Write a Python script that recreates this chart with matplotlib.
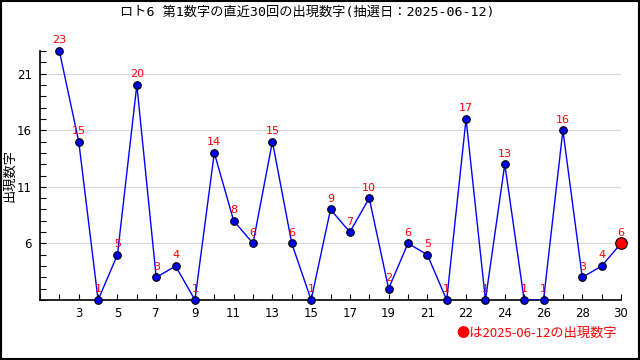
import matplotlib
matplotlib.use("Agg")
import matplotlib.pyplot as plt
from matplotlib.ticker import MultipleLocator, FixedLocator
from matplotlib.patches import Rectangle

plt.rcParams['font.family'] = ['DejaVu Sans Mono', 'Noto Sans CJK JP']

# last 30 draws, oldest first
values = [23, 15, 1, 5, 20, 3, 4, 1, 14, 8, 6, 15, 6, 1, 9, 7, 10, 2, 6, 5,
          1, 17, 1, 13, 1, 1, 16, 3, 4, 6]
positions = list(range(1, 31))
tick_pos = list(range(2, 31, 2))
tick_labels = ['3', '5', '7', '9', '11', '13', '15', '17', '19', '21',
               '22', '24', '26', '28', '30']
title = 'ロト6 第1数字の直近30回の出現数字(抽選日：2025-06-12)'
latest_note = '●は2025-06-12の出現数字'

fig = plt.figure(figsize=(6.4, 3.6), dpi=100)
ax = fig.add_axes([40 / 640, 1 - 300 / 360, 581 / 640, 249 / 360])

ax.plot(positions, values, color='#0000ff', linewidth=1, zorder=3)
ax.scatter(positions[:-1], values[:-1], s=30, color='#0000ee',
           edgecolors='black', linewidths=0.8, zorder=4, clip_on=False)
ax.scatter(positions[-1:], values[-1:], s=70, color='#ff0000',
           edgecolors='black', linewidths=0.8, zorder=5, clip_on=False)

for x, v in zip(positions, values):
    ax.annotate(str(v), (x, v), xytext=(0, 4), textcoords='offset points',
                ha='center', va='bottom', color='red', fontsize=8,
                family='DejaVu Sans', zorder=6)

ax.set_xlim(0, 30)
ax.set_ylim(1, 23)
ax.xaxis.set_major_locator(FixedLocator(tick_pos))
ax.set_xticklabels(tick_labels)
ax.xaxis.set_minor_locator(MultipleLocator(1))
ax.yaxis.set_major_locator(FixedLocator([6, 11, 16, 21]))
ax.yaxis.set_minor_locator(MultipleLocator(1))
ax.tick_params(which='both', direction='in', length=4, width=0.8,
               labelsize=8.5, colors='black')
ax.tick_params(axis='x', pad=5)
ax.tick_params(axis='y', pad=6)
for lab in ax.get_xticklabels() + ax.get_yticklabels():
    lab.set_family('DejaVu Sans')

ax.grid(axis='y', which='major', color='#d8d8d8', linewidth=0.9, zorder=0)
ax.spines['top'].set_visible(False)
ax.spines['right'].set_visible(False)
ax.spines['left'].set_linewidth(1.2)
ax.spines['bottom'].set_linewidth(1.2)

fig.text(10 / 640, 1 - 175 / 360, '出現数字', rotation=90, ha='center',
         va='center', fontsize=9.5, family='Noto Sans CJK JP')
fig.text(307 / 640, 1 - 12 / 360, title, ha='center', va='center', fontsize=9.5)
fig.text(617 / 640, 1 - 333 / 360, latest_note, ha='right', va='center',
         color='red', fontsize=9.5, family='Noto Sans CJK JP')

fig.patches.append(Rectangle((0.001, 0.002), 0.997, 0.995, transform=fig.transFigure,
                             fill=False, edgecolor='black', linewidth=1.5))

fig.savefig('out.png', dpi=100)
